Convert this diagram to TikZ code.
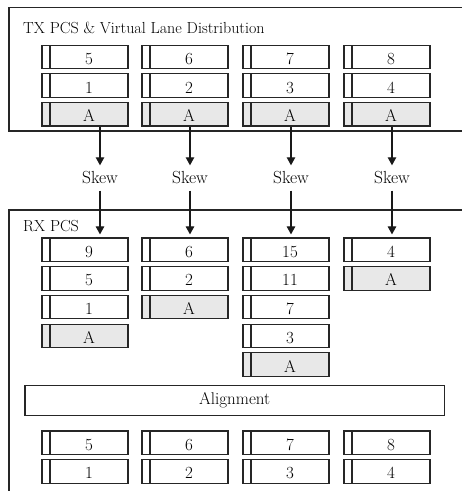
\documentclass[tikz,border=0pt]{standalone}
\usetikzlibrary{arrows.meta}
\begin{document}
\begin{tikzpicture}[x=1pt,y=-1pt,
  lane/.style={draw=black!85, line width=1.1pt, minimum width=86pt, minimum height=23.5pt, inner sep=0pt,
    text height=15pt, text depth=0pt,
    font=\fontsize{17}{20}\selectfont,
    path picture={\draw[black!85, line width=1.1pt] ([xshift=8pt]path picture bounding box.north west) -- ([xshift=8pt]path picture bounding box.south west);}},
  laneA/.style={lane, fill=black!9},
  frame/.style={draw=black!85, line width=1.3pt},
  arr/.style={-{Triangle[length=8pt,width=8.5pt]}, line width=1.1pt, black!90},
  skewlbl/.style={minimum height=25pt, inner sep=0pt, font=\fontsize{17.5}{20}\selectfont},
  ttl/.style={anchor=base west, inner sep=0pt, font=\fontsize{16}{19}\selectfont},
  alignbox/.style={draw=black!85, line width=1.1pt, minimum width=419.3pt, minimum height=30pt, inner sep=0pt, font=\fontsize{17}{20}\selectfont}
]
\useasboundingbox (0,0) rectangle (462,491);
\clip (0,0) rectangle (462,491);
\newcommand\lanebox[4]{\node[#4] (#1) at (#2) {\hspace*{8pt}#3};}
% frames
\draw[frame] (480,7.5) -- (9,7.5) -- (9,131) -- (480,131);
\draw[frame] (480,210) -- (9,210) -- (9,500);
\node[ttl] (txtitle) at (23,33.3) {TX PCS \& Virtual Lane Distribution};
\node[ttl] (rxtitle) at (23,231.7) {RX PCS};
% TX lanes
\lanebox{t5}{85,56.8}{5}{lane}
\lanebox{t6}{185,56.8}{6}{lane}
\lanebox{t7}{286,56.8}{7}{lane}
\lanebox{t8}{387,56.8}{8}{lane}
\lanebox{t1}{85,85.5}{1}{lane}
\lanebox{t2}{185,85.5}{2}{lane}
\lanebox{t3}{286,85.5}{3}{lane}
\lanebox{t4}{387,85.5}{4}{lane}
\lanebox{tA1}{85,114.2}{A}{laneA}
\lanebox{tA2}{185,114.2}{A}{laneA}
\lanebox{tA3}{286,114.2}{A}{laneA}
\lanebox{tA4}{387,114.2}{A}{laneA}
% skew labels
\node[skewlbl] (s1) at (100,178) {Skew};
\node[skewlbl] (s2) at (190,178) {Skew};
\node[skewlbl] (s3) at (291,178) {Skew};
\node[skewlbl] (s4) at (392,178) {Skew};
% RX lanes
\lanebox{r9}{85,249.7}{9}{lane}
\lanebox{r5}{85,278.4}{5}{lane}
\lanebox{r1}{85,307.1}{1}{lane}
\lanebox{rA1}{85,335.8}{A}{laneA}
\lanebox{r6}{185,249.7}{6}{lane}
\lanebox{r2}{185,278.4}{2}{lane}
\lanebox{rA2}{185,307.1}{A}{laneA}
\lanebox{r15}{286,249.7}{15}{lane}
\lanebox{r11}{286,278.4}{11}{lane}
\lanebox{r7}{286,307.1}{7}{lane}
\lanebox{r3}{286,335.8}{3}{lane}
\lanebox{rA3}{286,364.5}{A}{laneA}
\lanebox{r4}{387,249.7}{4}{lane}
\lanebox{rA4}{387,278.4}{A}{laneA}
% alignment
\node[alignbox] (align) at (234.65,400.7) {Alignment};
% aligned lanes
\lanebox{b5}{85,442.7}{5}{lane}
\lanebox{b6}{185,442.7}{6}{lane}
\lanebox{b7}{286,442.7}{7}{lane}
\lanebox{b8}{387,442.7}{8}{lane}
\lanebox{b1}{85,471.4}{1}{lane}
\lanebox{b2}{185,471.4}{2}{lane}
\lanebox{b3}{286,471.4}{3}{lane}
\lanebox{b4}{387,471.4}{4}{lane}
% arrows
\draw[arr] (s1 |- tA1.south) -- (s1.north);
\draw[arr] (s2 |- tA2.south) -- (s2.north);
\draw[arr] (s3 |- tA3.south) -- (s3.north);
\draw[arr] (s4 |- tA4.south) -- (s4.north);
\draw[arr, shorten >=3pt] (s1.south) -- (s1 |- r9.north);
\draw[arr, shorten >=3pt] (s2.south) -- (s2 |- r6.north);
\draw[arr, shorten >=3pt] (s3.south) -- (s3 |- r15.north);
\draw[arr, shorten >=3pt] (s4.south) -- (s4 |- r4.north);
\end{tikzpicture}
\end{document}
